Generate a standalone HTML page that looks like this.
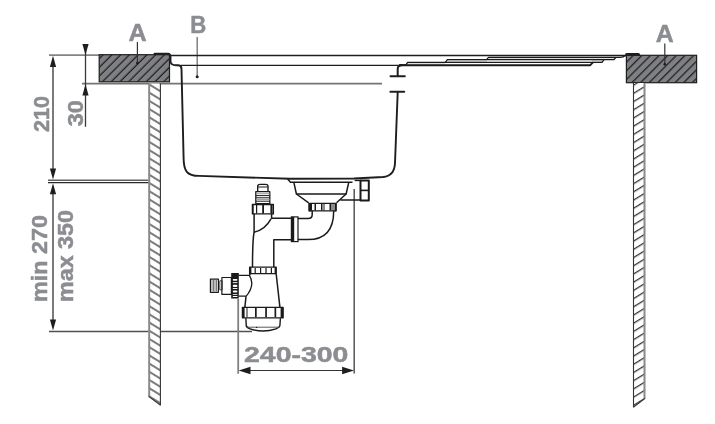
<!DOCTYPE html>
<html><head><meta charset="utf-8">
<style>
html,body{margin:0;padding:0;background:#fff;width:715px;height:424px;overflow:hidden}
svg{display:block}
text{font-family:"Liberation Sans",sans-serif;font-weight:bold;fill:#8b8d91;stroke:#8b8d91;stroke-width:0.5}
svg{will-change:transform}
</style></head><body>
<svg width="715" height="424" viewBox="0 0 715 424">
<defs>
<pattern id="hL" patternUnits="userSpaceOnUse" width="6.19" height="20" patternTransform="rotate(45)">
<rect width="6.19" height="20" fill="#7f8083"/>
<line x1="0.26" y1="-1" x2="0.26" y2="21" stroke="#1a1a1a" stroke-width="1.2"/>
<line x1="6.45" y1="-1" x2="6.45" y2="21" stroke="#1a1a1a" stroke-width="1.2"/>
</pattern>
<pattern id="hR" patternUnits="userSpaceOnUse" width="6.1" height="20" patternTransform="rotate(45)">
<rect width="6.1" height="20" fill="#7f8083"/>
<line x1="5.05" y1="-1" x2="5.05" y2="21" stroke="#1a1a1a" stroke-width="1.2"/><line x1="-1.1" y1="-1" x2="-1.1" y2="21" stroke="#1a1a1a" stroke-width="1.2"/>
</pattern>
<pattern id="legL" patternUnits="userSpaceOnUse" width="20" height="7.0" patternTransform="rotate(31.5)">
<rect width="20" height="7" fill="#fff"/>
<line x1="-1" y1="1.0" x2="21" y2="1.0" stroke="#1a1a1a" stroke-width="1.15"/>
</pattern>
<pattern id="legR" patternUnits="userSpaceOnUse" width="20" height="7.0" patternTransform="rotate(-31.5)">
<rect width="20" height="7" fill="#fff"/>
<line x1="-1" y1="4.69" x2="21" y2="4.69" stroke="#1a1a1a" stroke-width="1.15"/>
</pattern>
</defs>

<!-- ===== dimension lines left ===== -->
<g stroke="#747476" stroke-width="1.9" fill="none">
<line x1="49" y1="55.1" x2="100" y2="55.1" stroke="#838385"/>
<line x1="82" y1="83.6" x2="382" y2="83.6"/>
<line x1="53" y1="60" x2="53" y2="176"/>
<line x1="53" y1="186" x2="53" y2="326"/>
</g>
<g stroke="#1e1e1e" stroke-width="1.3" fill="none">
<line x1="85.5" y1="44" x2="85.5" y2="126.8" stroke="#3a3a3a"/>
<line x1="48" y1="180.2" x2="148.6" y2="180.2" stroke="#606060" stroke-width="1.4"/>
<line x1="48" y1="182.6" x2="148.6" y2="182.6" stroke="#2a2a2a"/>
<line x1="49" y1="331.6" x2="252" y2="331.6" stroke="#505052" stroke-width="1.5"/>
</g>
<g fill="#1e1e1e">
<polygon points="53,55.8 49.9,67 56.1,67"/>
<polygon points="53,179.5 49.9,168.5 56.1,168.5"/>
<polygon points="53,183.3 49.9,194.2 56.1,194.2"/>
<polygon points="53,330.6 49.9,319.5 56.1,319.5"/>
<polygon points="85.5,55 82.4,44 88.6,44"/>
<polygon points="85.5,84.3 82.4,95.6 88.6,95.6"/>
</g>

<!-- ===== texts ===== -->
<text transform="translate(49.3,132) rotate(-90)" font-size="21.8" textLength="36" lengthAdjust="spacingAndGlyphs">210</text>
<text transform="translate(82.5,126.2) rotate(-90)" font-size="21.5" textLength="26" lengthAdjust="spacingAndGlyphs">30</text>
<text transform="translate(46.5,302) rotate(-90)" font-size="21.5" textLength="87" lengthAdjust="spacingAndGlyphs">min 270</text>
<text transform="translate(72.9,302) rotate(-90)" font-size="21.5" textLength="92" lengthAdjust="spacingAndGlyphs">max 350</text>
<text x="128.5" y="40.8" font-size="23.5" textLength="18.2" lengthAdjust="spacingAndGlyphs">A</text>
<text x="655.8" y="41.9" font-size="23.3" textLength="18" lengthAdjust="spacingAndGlyphs">A</text>
<text x="190.3" y="33.2" font-size="24" textLength="16" lengthAdjust="spacingAndGlyphs">B</text>
<text x="244" y="361.5" font-size="22.6" textLength="104.4" lengthAdjust="spacingAndGlyphs">240-300</text>


<line x1="197.2" y1="37" x2="197.2" y2="77" stroke="#77787a" stroke-width="1.4"/>
<circle cx="197.2" cy="76.8" r="1.5" fill="#1e1e1e"/>

<!-- ===== blocks ===== -->
<rect x="99.2" y="54.7" width="70.3" height="27.1" fill="url(#hL)" stroke="#1e1e1e" stroke-width="1.2"/>
<rect x="626.4" y="55.3" width="70.2" height="27.4" fill="url(#hR)" stroke="#1e1e1e" stroke-width="1.2"/>

<!-- leaders -->
<g stroke="#333" stroke-width="1.2">
<line x1="137.4" y1="42" x2="137.4" y2="63"/>
<line x1="664.8" y1="43.6" x2="664.8" y2="64.3"/>
</g>
<circle cx="137.4" cy="63" r="1.3" fill="#1a1a1a"/>
<circle cx="664.8" cy="64.2" r="1.3" fill="#1a1a1a"/>
<!-- ===== legs ===== -->
<polygon points="148.6,83.5 160.6,83.5 160.6,405.3 148.6,396.4" fill="url(#legL)"/>
<line x1="149.2" y1="83.5" x2="149.2" y2="396.5" stroke="#8a8a8a" stroke-width="2"/>
<line x1="160.4" y1="83.5" x2="160.4" y2="405.3" stroke="#333" stroke-width="1.1"/>
<line x1="148.6" y1="396.4" x2="160.6" y2="405.3" stroke="#333" stroke-width="1.1"/>
<polygon points="633.3,83 645.1,83 645.1,398.4 633.3,407.3" fill="url(#legR)"/>
<line x1="644.5" y1="83" x2="644.5" y2="398.4" stroke="#8a8a8a" stroke-width="2"/>
<line x1="633.5" y1="83" x2="633.5" y2="407.3" stroke="#333" stroke-width="1.1"/>
<line x1="633.3" y1="407.3" x2="645.1" y2="398.4" stroke="#333" stroke-width="1.1"/>

<!-- ===== sink top ===== -->
<g stroke="#1e1e1e" fill="none" stroke-linecap="round" stroke-linejoin="round">
<path d="M154.5,53.8 H168 Q170.5,54 170.5,57 V61.5 Q171,65.3 176,65.3 H178.5 Q181.5,65.5 181.5,69 L183.6,158 C183.7,171 187,175.8 199,175.9 L290,178.8 L354,178.5 L383,177 Q394.5,176 395,163 L397.7,92" stroke-width="1.9"/>
<line x1="170" y1="55.5" x2="625.5" y2="55.5" stroke-width="1.3"/>
<line x1="181" y1="65.3" x2="399.5" y2="65.3" stroke-width="1.3"/>
<path d="M397.7,76 V69 Q397.7,65.3 401.5,65.3" stroke-width="2"/>
<line x1="390.5" y1="76.2" x2="404.8" y2="76.2" stroke-width="2"/>
<line x1="390.4" y1="91.8" x2="404.2" y2="91.8" stroke-width="2"/>
<path d="M626.6,54.6 H638.5" stroke-width="3"/>
</g>
<!-- drainboard -->
<g fill="#dedede">
<rect x="407.6" y="62.6" width="37.7" height="2.4"/>
<rect x="447.4" y="59.9" width="39.5" height="2.2"/>
<rect x="592" y="59.9" width="10.5" height="2.2"/>
<rect x="488.5" y="57.6" width="126" height="1.9"/>
</g>
<g stroke="#1a1a1a" fill="none" stroke-width="1.3" stroke-linejoin="round">
<path d="M399,65.3 H590 L593,62.3" stroke-width="1.9"/>
<path d="M400,64.9 H405.9 L407.6,62.4 H602 L604,59.7"/>
<path d="M445.3,62.4 L447.4,59.7 H614 L616,57.3"/>
<path d="M486.6,59.7 L488.5,57.4 H620 Q623.5,57.2 625.5,55.4"/>
</g>
<!-- dim 240-300 -->
<g stroke="#333" stroke-width="1.2">
<line x1="238.2" y1="299" x2="238.2" y2="373.7" stroke="#808080" stroke-width="1.8"/>
<line x1="354.2" y1="189" x2="354.2" y2="373.5" stroke="#555" stroke-width="1.5"/>
<line x1="246" y1="370.5" x2="347" y2="370.5"/>
</g>
<g fill="#1e1e1e">
<polygon points="238.6,370.5 250.5,366.8 250.5,374.2"/>
<polygon points="354,370.5 342.1,366.8 342.1,374.2"/>
</g>

<!-- ===== drain ===== -->
<g stroke="#1a1a1a" fill="none" stroke-width="1.5" stroke-linejoin="round">
<!-- flange + strainer -->
<path d="M287.6,179 L290.5,182.2 H352.5"/>
<path d="M293.8,182.2 L296.4,194 H346.1 L348.8,182.2"/>
<path d="M296.4,194 L308.7,202.8 M346.1,194 L336.5,202.8"/>
<!-- overflow -->
<rect x="360.5" y="180.5" width="8.3" height="20" stroke-width="2"/>
<line x1="360.5" y1="190.4" x2="368.8" y2="190.4" stroke-width="1.6"/>
<line x1="340.3" y1="200" x2="360.5" y2="200"/>
<line x1="354.6" y1="180.4" x2="360.5" y2="180.4"/>
<!-- nut 1 -->
<rect x="309.2" y="203.4" width="26.8" height="7.4" stroke-width="1.3"/>
<!-- vent spigot -->
<path d="M257.7,191.3 V186.5 Q257.7,184.4 260,184.4 H265.7 Q268,184.4 268,186.5 V191.3" stroke-width="1.4"/>
<line x1="258.2" y1="187" x2="267.5" y2="187" stroke-width="1"/>
<rect x="255.8" y="191.6" width="14" height="12" stroke-width="1.3"/>
<g stroke-width="1"><line x1="256" y1="195.6" x2="269.6" y2="195.6"/><line x1="256" y1="197.8" x2="269.6" y2="197.8"/><line x1="256" y1="201.2" x2="269.6" y2="201.2"/></g>
<g stroke="#999" stroke-width="1"><line x1="256" y1="193.7" x2="269.6" y2="193.7"/><line x1="256" y1="199.4" x2="269.6" y2="199.4"/></g>
<rect x="252.4" y="204.5" width="21" height="9.4" stroke-width="1.3"/>
<!-- pipe from vent down -->
<path d="M254.1,214 V232 Q252.5,240 252.5,267"/>
<path d="M271.6,214 V218.3 H291.9"/>
<path d="M271,218.9 Q265,230 253.9,232.3"/>
<path d="M273.8,267 V239.8 H291.9"/>
<!-- elbow -->
<path d="M297.7,218.6 H308 Q312.2,218.6 312.2,214.8 V210.7"/>
<path d="M297.7,239.6 H308 Q333.7,239.6 333.7,211"/>
<!-- nut 2 -->
<rect x="249.6" y="267.2" width="26.6" height="6.5" stroke-width="1.3"/>
<!-- bottle body -->
<path d="M250.2,274 L249.6,275.3 M246,296.3 L244.9,307.2"/>
<path d="M276.2,274 L279.9,307.2"/>
<rect x="242.4" y="307.3" width="40.7" height="10.5" stroke-width="1.3"/>
<path d="M245.9,318.2 L246.2,325.5 Q246.6,327.6 250,328.8 Q263,333.2 276,328.8 Q279.6,327.6 279.9,325.5 L280.4,318.2" stroke-width="1.4"/>
<line x1="246.8" y1="327.2" x2="279.4" y2="327.2" stroke-width="0.9" stroke="#444"/>
<!-- side connector -->
<path d="M238.6,275.3 H249.4 Q255.5,285 246.2,296.2 H238.6" stroke-width="1.3"/>
<path d="M221.9,277.5 H231.4 V294.4 H221.9 Z" stroke-width="1.2"/>
<rect x="210.4" y="279.1" width="8" height="13.2" stroke-width="1.2"/>
<rect x="219.8" y="280.8" width="2.3" height="9.1" stroke-width="0.8"/>
</g>
<g fill="#1a1a1a">
<!-- coupler -->
<rect x="291.4" y="216.9" width="2.8" height="24.7"/>
<rect x="291.4" y="216.9" width="6.6" height="24.7" fill="none" stroke="#1a1a1a" stroke-width="1.2"/>
<!-- nut1 ribs -->
<rect x="308.5" y="203" width="2.6" height="8.3"/>
<rect x="334.5" y="203" width="2.1" height="8.3"/>
<rect x="311" y="204" width="1" height="6.5"/><rect x="314.5" y="204" width="1.5" height="6.5"/>
<rect x="321" y="204" width="1.5" height="6.5"/><rect x="323.5" y="204" width="1" height="6.5"/>
<rect x="329.5" y="204" width="2" height="6.5"/><rect x="332.5" y="204" width="1" height="6.5"/>
<!-- vent nut ribs -->
<rect x="252.2" y="204.3" width="1.5" height="9.8"/>
<rect x="256" y="205" width="1.2" height="8.5"/>
<rect x="262.2" y="205" width="1.8" height="8.5"/>
<rect x="270.4" y="205" width="1.8" height="8.5"/>
<rect x="272.5" y="204.3" width="1.3" height="9.8"/>
<!-- nut2 ribs -->
<rect x="249.4" y="267.2" width="2" height="6.6"/>
<rect x="254.6" y="268" width="1.2" height="5"/>
<rect x="260" y="268" width="1.2" height="5"/>
<rect x="265.4" y="268" width="1.2" height="5"/>
<rect x="270.8" y="268" width="1.2" height="5"/>
<rect x="274.6" y="267.2" width="1.8" height="6.6"/>
<!-- lower nut ribs -->
<rect x="242" y="307.1" width="2.6" height="10.9"/>
<rect x="246.5" y="308" width="1" height="9.2"/>
<rect x="255" y="308" width="1.7" height="9.2"/>
<rect x="265.2" y="308" width="1.7" height="9.2"/>
<rect x="274.5" y="308" width="1.7" height="9.2"/>
<rect x="280.6" y="307.1" width="2.7" height="10.9"/>
<!-- side nut -->
<rect x="231.2" y="273" width="7.6" height="25.5"/>
<g fill="#fff">
<rect x="232.8" y="279" width="4.6" height="1.8" rx="0.8"/>
<rect x="232.8" y="282.2" width="4.6" height="0.9"/>
<rect x="232.8" y="284.8" width="4.6" height="2.2" rx="1"/>
<rect x="232.8" y="288" width="4.6" height="0.9"/>
<rect x="232.8" y="290.6" width="4.6" height="2" rx="1"/>
<rect x="232.8" y="294" width="4.6" height="0.8"/>
<rect x="232.8" y="296" width="4.6" height="1"/>
</g>
<circle cx="256.6" cy="327.4" r="0.7"/>
</g>
<g stroke="#555" stroke-width="0.8">
<line x1="212" y1="280" x2="212" y2="291.5"/><line x1="213.5" y1="280" x2="213.5" y2="291.5"/><line x1="215" y1="280" x2="215" y2="291.5"/><line x1="216.5" y1="280" x2="216.5" y2="291.5"/>
</g>
</svg>
</body></html>
